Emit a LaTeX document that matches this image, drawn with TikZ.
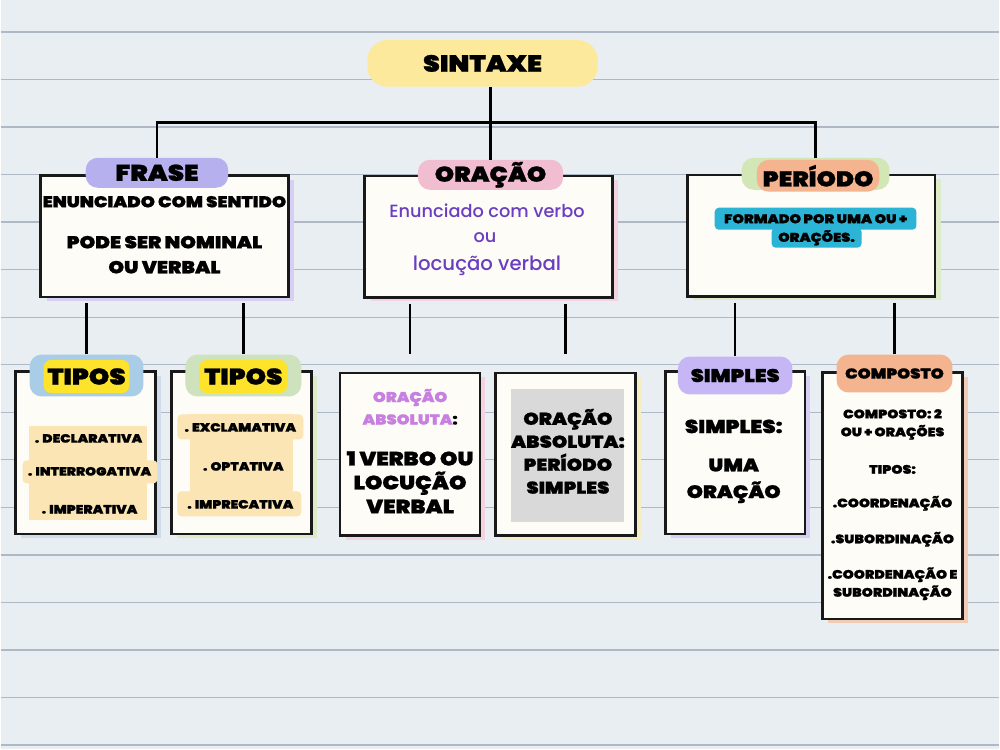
\documentclass[tikz,border=0pt]{standalone}
\usepackage{fontspec}
\setmainfont{Poppins}[BoldFont={Poppins Black},BoldFeatures={FakeStretch=1.15,FakeBold=1}]
\newfontfamily\mediumfont{Poppins Medium}
\usetikzlibrary{shadows}

\definecolor{paper}{HTML}{E9EEF3}
\definecolor{ruleline}{HTML}{AEB8C7}
\definecolor{cardwhite}{HTML}{FDFCF6}
\definecolor{sintaxe}{HTML}{FDE99B}
\definecolor{lavender}{HTML}{B6B0EF}
\definecolor{lavlight}{HTML}{D6CEF3}
\definecolor{pinktab}{HTML}{F1BDD0}
\definecolor{pinklight}{HTML}{F2D3DF}
\definecolor{salmon}{HTML}{F4B48F}
\definecolor{salmonlight}{HTML}{F1CBB3}
\definecolor{greentab}{HTML}{D3E6B6}
\definecolor{greenlight}{HTML}{DDEBC8}
\definecolor{bluetab}{HTML}{A9CDE6}
\definecolor{bluelight}{HTML}{CFDDEA}
\definecolor{yellowtab}{HTML}{FDE42A}
\definecolor{yellowlight}{HTML}{F5EDC4}
\definecolor{beige}{HTML}{FBE5B5}
\definecolor{cyanbox}{HTML}{2BB4D6}
\definecolor{grayfill}{HTML}{D9D9D9}
\definecolor{purpletext}{HTML}{6B3DC2}
\definecolor{orchid}{HTML}{C77FE0}
\definecolor{simptab}{HTML}{C6B6F6}

\begin{document}
\begin{tikzpicture}[x=0.75pt,y=-0.75pt,
    card/.style={draw=black!90,line width=1.9pt,fill=cardwhite,inner sep=0pt},
    topcard/.style={card,minimum width=186pt,minimum height=91pt},
    subcard/.style={card,minimum width=105pt,minimum height=122pt},
    tab/.style={rounded corners=9pt,inner sep=0pt},
    conn/.style={line width=1.8pt},
    hd/.style={font=\bfseries\fontsize{16}{16}\selectfont},
    big/.style={font=\bfseries\fontsize{13}{18.75}\selectfont,align=center},
    mid/.style={font=\bfseries\fontsize{14}{18}\selectfont,align=center},
    sm/.style={font=\bfseries\fontsize{9}{13.5}\selectfont,align=center},
    violet/.style={text=purpletext,font=\mediumfont\fontsize{13.3}{13.3}\selectfont}]

  % paper
  \fill[paper] (0,0) rectangle (1000,750);
  \foreach \k in {0,...,15}
    \draw[ruleline,line width=1pt] (0,{32+47.6*\k}) -- (1000,{32+47.6*\k});

  % first level
  \node[tab,fill=sintaxe,rounded corners=15pt,minimum width=173pt,minimum height=35pt,
        font=\bfseries\fontsize{17.5}{17.5}\selectfont] (sintaxe) at (482.5,63.5) {SINTAXE};

  \node[topcard,drop shadow={shadow xshift=4.5pt,shadow yshift=-3pt,fill=lavlight,opacity=1}] (frase) at (164,236.5) {};
  \node[topcard,drop shadow={shadow xshift=4.5pt,shadow yshift=-3pt,fill=pinklight,opacity=1}] (oracao) at (488.5,237) {};
  \node[topcard,drop shadow={shadow xshift=4.5pt,shadow yshift=-3pt,fill=greenlight,opacity=1}] (periodo) at (811.5,236) {};

  \node[tab,fill=lavender,minimum width=107pt,minimum height=22.5pt,hd,font=\bfseries\fontsize{17}{17}\selectfont] (frasetab) at (156.5,173) {FRASE};
  \node[tab,fill=pinktab,minimum width=109pt,minimum height=22.5pt,hd] (oracaotab) at (490.5,175) {ORAÇÃO};
  \node[tab,fill=greentab,minimum width=111pt,minimum height=24pt] (periodoback) at (816,174) {};
  \node[tab,fill=salmon,minimum width=92pt,minimum height=24pt,hd] (periodotab) at (818.5,176) {PERÍODO};

  \node[font=\bfseries\fontsize{11.8}{11.8}\selectfont] (fraseA) at (164,202) {ENUNCIADO COM SENTIDO};
  \node[big] (fraseB) at (164,255) {PODE SER NOMINAL\\OU VERBAL};

  \node[violet] (oracaoA) at (487,211) {Enunciado com verbo};
  \node[violet] (oracaoB) at (485,238) {ou};
  \node[violet,font=\mediumfont\fontsize{14.8}{14.8}\selectfont] (oracaoC) at (487,266) {locução verbal};

  \fill[cyanbox,rounded corners=3pt] (715,208) rectangle (917,230);
  \fill[cyanbox,rounded corners=3pt] (772,228) rectangle (862,248);
  \node[font=\bfseries\fontsize{9.5}{9.5}\selectfont] (periodoA) at (816,219) {FORMADO POR UMA OU +};
  \node[font=\bfseries\fontsize{9.5}{9.5}\selectfont] (periodoB) at (817,238) {ORAÇÕES.};

  % second level
  \node[subcard,drop shadow={shadow xshift=4pt,shadow yshift=-3pt,fill=bluelight,opacity=1}] (tiposA) at (85,453.5) {};
  \node[subcard,drop shadow={shadow xshift=4pt,shadow yshift=-3pt,fill=greenlight,opacity=1}] (tiposB) at (241,453.5) {};
  \node[subcard,drop shadow={shadow xshift=4pt,shadow yshift=-3pt,fill=pinklight,opacity=1}] (absA) at (410,455) {};
  \node[subcard,drop shadow={shadow xshift=4pt,shadow yshift=-3pt,fill=yellowlight,opacity=1}] (absB) at (565.5,455) {};
  \node[subcard,drop shadow={shadow xshift=4pt,shadow yshift=-3pt,fill=lavlight,opacity=1}] (simples) at (735.5,453.5) {};
  \node[subcard,minimum height=185pt,drop shadow={shadow xshift=4pt,shadow yshift=-3pt,fill=salmonlight,opacity=1}] (composto) at (893,496.5) {};

  \node[tab,fill=bluetab,minimum width=85.5pt,minimum height=31.5pt] (tiposAback) at (86,376) {};
  \node[tab,fill=yellowtab,rounded corners=6pt,minimum width=64.5pt,minimum height=25pt,
        font=\bfseries\fontsize{17}{17}\selectfont] (tiposAtab) at (86,377) {TIPOS};
  \node[tab,fill=greentab!85!bluetab,minimum width=87pt,minimum height=31.5pt] (tiposBback) at (243,376) {};
  \node[tab,fill=yellowtab,rounded corners=6pt,minimum width=66pt,minimum height=25pt,
        font=\bfseries\fontsize{17}{17}\selectfont] (tiposBtab) at (243,377) {TIPOS};
  \node[tab,fill=simptab,minimum width=86pt,minimum height=28.5pt,
        font=\bfseries\fontsize{13.7}{13.7}\selectfont] (simplestab) at (735.5,376) {SIMPLES};
  \node[tab,fill=salmon,minimum width=87pt,minimum height=28.5pt,
        font=\bfseries\fontsize{10.8}{10.8}\selectfont] (compostotab) at (895,374) {COMPOSTO};

  \fill[beige] (28,427) rectangle (147,521);
  \fill[beige,rounded corners=3pt] (22,461) rectangle (157,484);
  \node[sm] (tiposA1) at (88,439) {. DECLARATIVA};
  \node[sm] (tiposA2) at (89,472) {. INTERROGATIVA};
  \node[sm] (tiposA3) at (89,510) {. IMPERATIVA};

  \fill[beige] (190,415) rectangle (293,517);
  \fill[beige,rounded corners=3pt] (177,415) rectangle (303,440);
  \fill[beige,rounded corners=3pt] (177,492) rectangle (301,517);
  \node[sm] (tiposB1) at (240,428) {. EXCLAMATIVA};
  \node[sm] (tiposB2) at (243,467) {. OPTATIVA};
  \node[sm] (tiposB3) at (240,505) {. IMPRECATIVA};

  \node[sm,font=\bfseries\fontsize{10.7}{10.7}\selectfont,text=orchid] (absA1) at (410,398) {ORAÇÃO};
  \node[sm,font=\bfseries\fontsize{10.7}{10.7}\selectfont] (absA2) at (410,420) {\textcolor{orchid}{ABSOLUTA}:};
  \node[mid,font=\bfseries\fontsize{14.5}{18}\selectfont] (absA3) at (410,483) {1 VERBO OU\\LOCUÇÃO\\VERBAL};

  \fill[grayfill] (511,390) rectangle (624,523);
  \node[mid,font=\bfseries\fontsize{12.8}{17.25}\selectfont] (absB1) at (568,452) {ORAÇÃO\\ABSOLUTA:\\PERÍODO\\SIMPLES};

  \node[mid] (simples1) at (734,427) {SIMPLES:};
  \node[mid,font=\bfseries\fontsize{13.5}{20}\selectfont] (simples2) at (734,481.5) {UMA\\ORAÇÃO};

  \node[sm,font=\bfseries\fontsize{9.2}{13.5}\selectfont] (composto1) at (893,425) {COMPOSTO: 2\\OU + ORAÇÕES};
  \node[sm,font=\bfseries\fontsize{9.2}{13.5}\selectfont] (composto2) at (893,470) {TIPOS:};
  \node[sm,font=\bfseries\fontsize{9.2}{13.5}\selectfont] (composto3) at (893,504) {.COORDENAÇÃO};
  \node[sm,font=\bfseries\fontsize{9.2}{13.5}\selectfont] (composto4) at (893,540) {.SUBORDINAÇÃO};
  \node[sm,font=\bfseries\fontsize{9.2}{13.5}\selectfont] (composto5) at (893,584.5) {.COORDENAÇÃO E\\SUBORDINAÇÃO};

  % connectors
  \draw[conn] (sintaxe.south -| oracaotab.north) -- (oracaotab.north);
  \draw[conn] (frasetab.north) -- ++(0,-35) -| (periodoback.north);
  \draw[conn,shorten <=4pt] (frase.south -| tiposAback.north) -- (tiposAback.north);
  \draw[conn,shorten <=4pt] (frase.south -| tiposBback.north) -- (tiposBback.north);
  \draw[conn,shorten <=4pt,shorten >=13.5pt] (oracao.south -| absA.north) -- (absA.north);
  \draw[conn,shorten <=4pt,shorten >=13.5pt] (oracao.south -| absB.north) -- (absB.north);
  \draw[conn,shorten <=4pt] (periodo.south -| simplestab.north) -- (simplestab.north);
  \draw[conn,shorten <=4pt] (periodo.south -| compostotab.north) -- (compostotab.north);
\end{tikzpicture}
\end{document}
